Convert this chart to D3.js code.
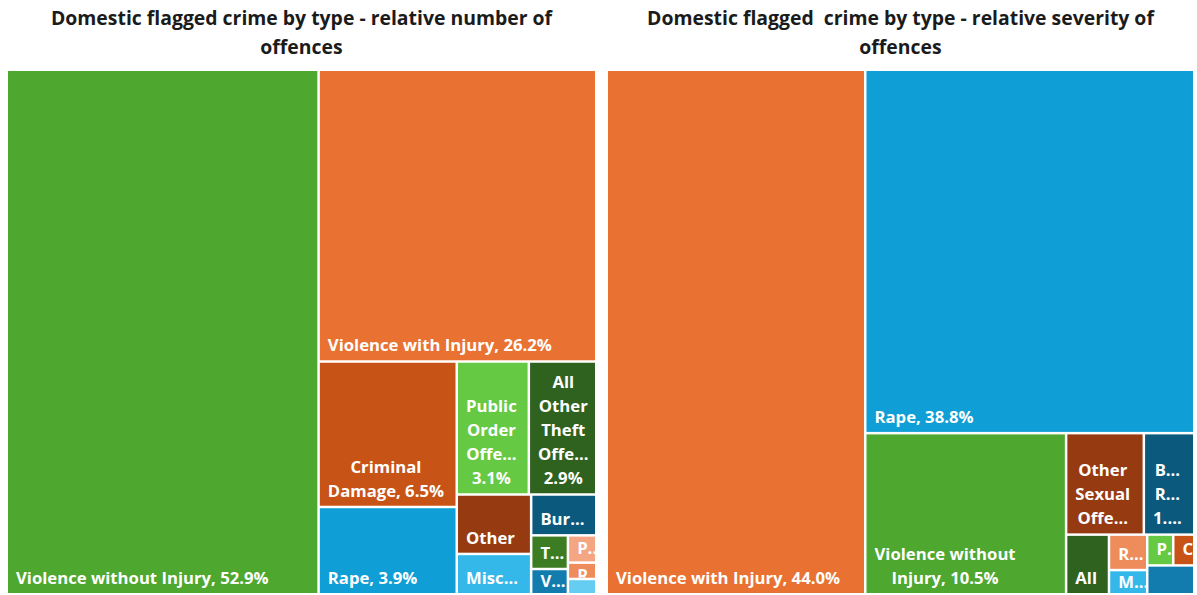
<!DOCTYPE html>
<html>
<head>
<meta charset="utf-8">
<script src="https://cdn.jsdelivr.net/npm/d3@7"></script>
<style>
  body { margin: 0; background: #ffffff; }
  .title { font-family: "Open Sans", "Noto Sans", sans-serif; font-weight: 700; font-size: 19.4px; fill: #1b1b1b; white-space: pre; }
  .lbl { font-family: "Open Sans", "Noto Sans", sans-serif; font-weight: 700; font-size: 16.7px; fill: #ffffff; }
</style>
</head>
<body>
<svg id="chart" width="1197" height="595"></svg>
<script>
// Relative number of domestic flagged offences, by crime type (%)
const numberTitle = ["Domestic flagged crime by type - relative number of", "offences"];
const numberCategories = [
  "Violence without Injury", "Violence with Injury", "Criminal Damage", "Rape",
  "Public Order Offences", "All Other Theft Offences", "Other Sexual Offences",
  "Miscellaneous Crimes Against Society", "Burglary Residential", "Theft from the Person",
  "Vehicle Offences", "Possession of Weapons Offences", "Robbery", "Shoplifting"
];
const numberShares = [52.9, 26.2, 6.5, 3.9, 3.1, 2.9, 1.43, 0.97, 0.86, 0.40, 0.30, 0.25, 0.15, 0.14];

// Relative severity of domestic flagged offences, by crime type (%)
const severityTitle = ["Domestic flagged  crime by type - relative severity of", "offences"];
const severityCategories = [
  "Violence with Injury", "Rape", "Violence without Injury", "Other Sexual Offences",
  "Burglary Residential", "All Other Theft Offences", "Robbery",
  "Miscellaneous Crimes Against Society", "Public Order Offences", "Criminal Damage",
  "Vehicle Offences"
];
const severityShares = [44.0, 38.8, 10.5, 2.56, 1.66, 0.83, 0.44, 0.30, 0.26, 0.21, 0.44];
const severityUnlabelled = ["Vehicle Offences"];

// One colour per crime type, shared by both treemaps
const categoryColours = {
  "Violence without Injury": "#4ea72e",
  "Violence with Injury": "#e97132",
  "Criminal Damage": "#c75316",
  "Rape": "#0f9ed5",
  "Public Order Offences": "#66c943",
  "All Other Theft Offences": "#2f621f",
  "Other Sexual Offences": "#963b11",
  "Miscellaneous Crimes Against Society": "#34b8ea",
  "Burglary Residential": "#0b5a7d",
  "Theft from the Person": "#3c7d23",
  "Vehicle Offences": "#117cad",
  "Possession of Weapons Offences": "#f4a582",
  "Robbery": "#ef8c5c",
  "Shoplifting": "#65cdf2"
};

const svg = d3.select("#chart");

const panels = [
  { title: numberTitle, names: numberCategories, values: numberShares, hidden: [], x: 8, y: 71, w: 587, h: 522 },
  { title: severityTitle, names: severityCategories, values: severityShares, hidden: severityUnlabelled, x: 608, y: 71, w: 585, h: 522 }
];

const LINE_H = 24;
const PAD = 8;      // label inset from the tile's left edge
const FIT_PAD = 7;  // horizontal room kept free on each side when wrapping

// Squarified tiling (same row logic as d3.treemapSquarify) but allowing a
// target aspect ratio just below 1, which d3's own ratio() clamps away.
function squarifyTile(ratio) {
  return function (parent, x0, y0, x1, y1) {
    const nodes = parent.children;
    const n = nodes.length;
    let i0 = 0, i1 = 0, value = parent.value;
    while (i0 < n) {
      const dx = x1 - x0, dy = y1 - y0;
      let sumValue;
      do sumValue = nodes[i1++].value; while (!sumValue && i1 < n);
      let minValue = sumValue, maxValue = sumValue;
      const alpha = Math.max(dy / dx, dx / dy) / (value * ratio);
      let beta = sumValue * sumValue * alpha;
      let minRatio = Math.max(maxValue / beta, beta / minValue);
      for (; i1 < n; ++i1) {
        const nodeValue = nodes[i1].value;
        sumValue += nodeValue;
        if (nodeValue < minValue) minValue = nodeValue;
        if (nodeValue > maxValue) maxValue = nodeValue;
        beta = sumValue * sumValue * alpha;
        const newRatio = Math.max(maxValue / beta, beta / minValue);
        if (newRatio > minRatio) { sumValue -= nodeValue; break; }
        minRatio = newRatio;
      }
      const row = { value: sumValue, children: nodes.slice(i0, i1) };
      if (dx < dy) {
        const yEnd = dy ? y0 + dy * sumValue / value : y1;
        d3.treemapDice(row, x0, y0, x1, yEnd);
        y0 = yEnd;
      } else {
        const xEnd = dx ? x0 + dx * sumValue / value : x1;
        d3.treemapSlice(row, x0, y0, xEnd, y1);
        x0 = xEnd;
      }
      value -= sumValue;
      i0 = i1;
    }
  };
}

// Hidden text node used to measure label widths
const measurer = svg.append("text").attr("class", "lbl").attr("visibility", "hidden");
function textWidth(s) { measurer.text(s); return measurer.node().getComputedTextLength(); }

function truncate(word, maxW) {
  if (textWidth(word) <= maxW) return word;
  for (let n = word.length - 1; n >= 1; n--) {
    const s = word.slice(0, n) + "...";
    if (textWidth(s) <= maxW) return s;
  }
  return word[0] + "...";
}

function wrapLabel(label, maxW) {
  const words = label.split(" ");
  const lines = [];
  let cur = "";
  words.forEach(w => {
    if (!cur) { cur = w; return; }
    const trial = cur + " " + w;
    if (textWidth(trial) <= maxW) cur = trial;
    else { lines.push(cur); cur = w; }
  });
  if (cur) lines.push(cur);
  return lines.map(l => truncate(l, maxW));
}

panels.forEach((p, pi) => {
  // Titles, centred over each treemap
  const cx = p.x + p.w / 2;
  svg.append("text").attr("class", "title")
    .attr("text-anchor", "middle")
    .selectAll("tspan").data(p.title).join("tspan")
    .attr("x", cx).attr("y", (d, i) => 25 + i * 29)
    .text(d => d);

  const data = p.names.map((n, i) => ({ name: n, value: p.values[i] }));
  const root = d3.hierarchy({ children: data }).sum(d => d.value || 0);
  d3.treemap()
    .size([p.w, p.h])
    .paddingInner(2.5)
    .tile(squarifyTile(0.9868))(root);

  const g = svg.append("g").attr("transform", `translate(${p.x},${p.y})`);
  const cells = g.selectAll("g.cell").data(root.leaves()).join("g").attr("class", "cell");

  cells.append("clipPath")
    .attr("id", (d, i) => `clip-${pi}-${i}`)
    .append("rect")
    .attr("x", d => d.x0).attr("y", d => d.y0)
    .attr("width", d => d.x1 - d.x0).attr("height", d => d.y1 - d.y0);

  cells.append("rect")
    .attr("x", d => d.x0).attr("y", d => d.y0)
    .attr("width", d => d.x1 - d.x0).attr("height", d => d.y1 - d.y0)
    .attr("fill", d => categoryColours[d.data.name]);

  cells.each(function (d, i) {
    if (p.hidden.includes(d.data.name)) return;
    const w = d.x1 - d.x0, h = d.y1 - d.y0;
    if (w < 12 || h < 13) return;   // too small to hold any text
    const maxW = w - 2 * FIT_PAD;
    const label = `${d.data.name}, ${d.data.value.toFixed(1)}%`;
    let lines = wrapLabel(label, maxW);
    const fit = Math.max(1, Math.floor((h - 10) / LINE_H));
    lines = lines.slice(0, fit);
    const blockW = d3.max(lines, l => textWidth(l));
    const lastBase = Math.max(d.y1 - 9, d.y0 + 17 + (lines.length - 1) * LINE_H);
    const t = d3.select(this).append("text")
      .attr("class", "lbl")
      .attr("text-anchor", "middle")
      .attr("clip-path", `url(#clip-${pi}-${i})`);
    lines.forEach((l, k) => {
      t.append("tspan")
        .attr("x", d.x0 + PAD + blockW / 2)
        .attr("y", lastBase - (lines.length - 1 - k) * LINE_H)
        .text(l);
    });
  });
});
measurer.remove();
</script>
</body>
</html>
